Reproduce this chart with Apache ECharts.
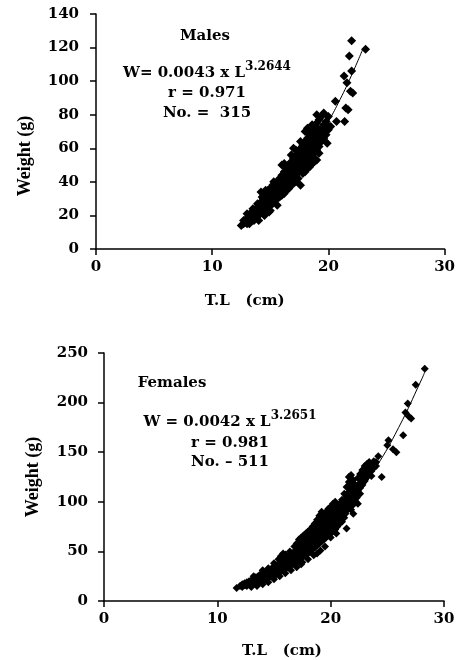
<!DOCTYPE html>
<html><head><meta charset="utf-8">
<script src="https://cdn.jsdelivr.net/npm/echarts@6/dist/echarts.min.js"></script>
<style>html,body{margin:0;padding:0;background:#fff}#c{width:458px;height:660px}</style>
</head><body><div id="c"></div>
<script>
// ---- data ----
const xTicksTop = [0, 10, 20, 30];
const yTicksTop = [0, 20, 40, 60, 80, 100, 120, 140];
const xTicksBottom = [0, 10, 20, 30];
const yTicksBottom = [0, 50, 100, 150, 200, 250];

// Males: [T.L (cm), Weight (g)]
const malePoints = [
 [12.5,14],[12.7,15],[12.7,17],[12.9,16],[13.0,18],[13.0,15],[13.2,17],[13.2,20],
 [13.4,19],[13.4,22],[13.4,17],[13.6,20],[13.6,23],[13.8,21],[13.8,24],[13.8,19],
 [14.0,22],[14.0,26],[14.0,20],[14.2,24],[14.2,28],[14.2,34],[14.2,22],[14.4,25],
 [14.4,30],[14.4,33],[14.4,23],[14.6,26],[14.6,29],[14.6,32],[14.8,27],[14.8,31],
 [14.8,35],[14.8,25],[15.0,28],[15.0,32],[15.0,36],[15.0,26],[15.2,30],[15.2,34],
 [15.2,38],[15.2,27],[15.4,31],[15.4,35],[15.4,39],[15.4,29],[15.6,33],[15.6,37],
 [15.6,40],[15.6,30],[15.8,34],[15.8,38],[15.8,42],[15.8,31],[16.0,35],[16.0,40],
 [16.0,44],[16.0,50],[16.0,32],[16.2,37],[16.2,41],[16.2,46],[16.2,51],[16.2,33],
 [16.4,38],[16.4,43],[16.4,48],[16.4,35],[16.6,40],[16.6,45],[16.6,50],[16.6,36],
 [16.8,41],[16.8,47],[16.8,52],[16.8,56],[16.8,38],[17.0,43],[17.0,49],[17.0,54],
 [17.0,60],[17.0,39],[17.2,44],[17.2,50],[17.2,56],[17.2,59],[17.2,40],[17.4,46],
 [17.4,52],[17.4,58],[17.4,42],[17.6,47],[17.6,54],[17.6,60],[17.6,64],[17.6,38],
 [17.8,49],[17.8,56],[17.8,62],[17.8,45],[18.0,50],[18.0,57],[18.0,64],[18.0,70],
 [18.0,46],[18.2,52],[18.2,59],[18.2,66],[18.2,72],[18.2,48],[18.4,54],[18.4,61],
 [18.4,68],[18.4,49],[18.6,55],[18.6,63],[18.6,70],[18.6,74],[18.6,51],[18.8,57],
 [18.8,65],[18.8,72],[18.8,52],[19.0,59],[19.0,67],[19.0,75],[19.0,80],[19.0,53],
 [19.2,61],[19.2,69],[19.2,77],[19.2,57],[19.4,64],[19.4,72],[19.4,79],[19.6,66],
 [19.6,74],[19.6,81],[19.8,68],[19.8,76],[20.0,71],[20.0,79],[20.2,73],[19.9,63],
 [20.6,88],[20.7,76],[21.4,76],[21.35,103],[21.6,99],[21.5,84],[21.7,83],[21.9,94],
 [22.1,93],[22.0,106],[21.8,115],[22.0,124],[23.2,119],
 [13.1,19],[13.3,18],[13.5,21],[13.7,22],[13.9,23],[14.1,25],[14.3,27],[14.3,31],
 [14.5,28],[14.7,30],[14.9,33],[15.1,30],[15.1,35],[15.3,33],[15.5,34],[15.5,37],
 [15.7,36],[15.9,36],[15.9,40],[16.1,38],[16.1,43],[16.3,40],[16.3,45],[16.5,42],
 [16.5,47],[16.7,43],[16.7,49],[16.9,45],[16.9,51],[17.1,47],[17.1,53],[17.3,48],
 [17.3,55],[17.5,50],[17.5,57],[17.7,52],[17.7,59],[17.9,53],[17.9,60],[18.1,55],
 [18.1,62],[18.3,57],[18.3,64],[18.5,58],[18.5,66],[18.7,60],[18.7,68],[18.9,62],
 [18.9,70],[19.1,64],[19.1,72],[19.3,66],[19.5,69],[19.7,71],[19.9,74],
 [13.0,21],[13.5,24],[13.2,15],[14.0,17],[14.5,20],[15.0,23],[13.6,17],[14.6,35],
 [15.3,40],[13.9,27],[14.9,22],[15.6,26]
];
// Males fitted curve W = 0.0043 L^3.2644
const maleFitTL = [12.5, 13, 14, 15, 16, 17, 18, 19, 20, 21, 22, 23];
const maleFitW  = [16.4, 18.6, 23.7, 29.6, 36.6, 44.7, 53.8, 64.2, 75.9, 89.0, 103.6, 119.7];

// Females: [T.L (cm), Weight (g)]
const femalePoints = [
 [11.7,13],[12.0,15],[12.2,14],[12.2,17],[12.4,16],[12.4,18],[12.6,15],[12.6,19],
 [12.6,17],[12.8,17],[12.8,20],[13.0,18],[13.0,21],[13.0,16],[13.2,19],[13.2,22],
 [13.2,17],[13.4,20],[13.4,24],[13.4,18],[13.6,21],[13.6,25],[13.6,19],[13.8,22],
 [13.8,27],[13.8,20],[14.0,23],[14.0,28],[14.0,21],[14.0,31],[14.2,24],[14.2,29],
 [14.2,22],[14.4,25],[14.4,30],[14.4,23],[14.6,26],[14.6,31],[14.6,24],[14.8,28],
 [14.8,33],[14.8,25],[15.0,29],[15.0,34],[15.0,26],[15.0,38],[15.2,30],[15.2,36],
 [15.2,27],[15.4,32],[15.4,37],[15.4,28],[15.4,42],[15.6,33],[15.6,39],[15.6,30],
 [15.6,45],[15.8,35],[15.8,41],[15.8,31],[15.8,48],[16.0,36],[16.0,43],[16.0,33],
 [16.0,47],[16.2,38],[16.2,44],[16.2,34],[16.4,39],[16.4,46],[16.4,35],[16.4,50],
 [16.6,41],[16.6,48],[16.6,37],[16.8,42],[16.8,50],[16.8,38],[16.8,55],[17.0,44],
 [17.0,52],[17.0,40],[17.0,58],[17.2,46],[17.2,54],[17.2,42],[17.2,62],[17.4,47],
 [17.4,56],[17.4,43],[17.4,64],[17.4,37],[17.6,49],[17.6,58],[17.6,45],[17.6,66],
 [17.8,51],[17.8,60],[17.8,47],[17.8,68],[18.0,53],[18.0,62],[18.0,48],[18.0,70],
 [18.2,55],[18.2,64],[18.2,50],[18.2,72],[18.4,57],[18.4,66],[18.4,52],[18.4,75],
 [18.6,59],[18.6,68],[18.6,54],[18.6,78],[18.8,61],[18.8,70],[18.8,56],[18.8,82],
 [19.0,63],[19.0,72],[19.0,58],[19.0,86],[19.2,90],[19.2,65],[19.2,75],[19.2,60],
 [19.2,88],[19.4,67],[19.4,77],[19.4,62],[19.4,85],[19.6,69],[19.6,80],[19.6,64],
 [19.6,90],[19.8,71],[19.8,82],[19.8,66],[19.8,93],[20.0,74],[20.0,85],[20.0,68],
 [20.0,95],[20.2,76],[20.2,87],[20.2,70],[20.2,98],[20.4,79],[20.4,90],[20.4,72],
 [20.4,100],[20.6,81],[20.6,92],[20.6,75],[20.6,96],[20.8,84],[20.8,94],[20.8,78],
 [20.8,98],[21.0,86],[21.0,97],[21.0,80],[21.0,102],[21.2,89],[21.2,100],[21.2,84],
 [21.2,108],[21.4,92],[21.4,105],[21.4,73],[21.4,115],[21.6,96],[21.6,110],[21.6,120],
 [21.6,125],[21.8,100],[21.8,118],[21.8,127],[21.8,92],[22.0,104],[22.0,113],[22.0,122],
 [22.0,88],[22.2,108],[22.2,116],[22.2,100],[22.4,112],[22.4,124],[22.4,98],[22.6,114],
 [22.6,128],[22.6,108],[22.8,117],[22.8,132],[22.8,122],[23.0,121],[23.0,136],[23.0,128],
 [23.2,125],[23.2,138],[23.2,131],[23.4,128],[23.4,134],[23.4,140],[23.6,131],[23.6,137],
 [23.6,126],[23.8,134],[23.8,141],[24.0,136],[24.0,140],[24.2,146],[24.5,125],[25.0,157],
 [25.1,162],[25.5,153],[25.8,150],[26.4,167],[26.6,190],[26.8,199],[26.9,186],[27.1,184],
 [27.5,218],[28.3,234],
 [12.5,16.5],[12.9,18.5],[13.1,19.5],[13.3,21],[13.5,22],[13.7,23],[13.9,24.5],[14.1,26],
 [14.3,27],[14.5,28],[14.7,29],[14.9,30.5],[15.1,32],[15.1,28],[15.3,33],[15.3,29],
 [15.5,35],[15.5,31],[15.7,37],[15.7,33],[15.9,38],[15.9,34],[16.1,40],[16.1,35],
 [16.3,41],[16.3,37],[16.5,43],[16.5,38],[16.7,45],[16.7,40],[16.9,47],[16.9,41],
 [17.1,48],[17.1,43],[17.1,55],[17.3,50],[17.3,45],[17.3,58],[17.5,52],[17.5,46],
 [17.5,60],[17.7,54],[17.7,48],[17.7,62],[17.9,56],[17.9,50],[17.9,64],[18.1,58],
 [18.1,51],[18.1,66],[18.3,60],[18.3,53],[18.3,68],[18.5,62],[18.5,55],[18.5,71],
 [18.7,64],[18.7,57],[18.7,74],[18.9,66],[18.9,59],[18.9,76],[19.1,68],[19.1,61],
 [19.1,80],[19.3,71],[19.3,63],[19.3,81],[19.5,73],[19.5,65],[19.5,83],[19.7,75],
 [19.7,67],[19.7,86],[19.9,78],[19.9,70],[19.9,89],[20.1,80],[20.1,72],[20.1,91],
 [20.3,83],[20.3,74],[20.3,94],[20.5,85],[20.5,77],[20.5,97],[20.7,88],[20.7,80],
 [20.9,90],[20.9,82],[21.1,92],[21.1,85],[21.3,96],[21.3,88],[21.5,100],[21.5,92],
 [21.7,104],[21.7,114],[21.9,108],[21.9,96],[22.1,110],[22.1,118],[22.3,112],[22.3,104],
 [22.5,118],[22.7,120],[22.9,126],[23.1,132],[23.3,135],[23.5,137],
 [14.0,17],[14.5,19],[15.0,22],[15.5,25],[16.0,28],[16.5,31],[13.5,15],[13.0,14],
 [17.0,34],[17.5,39],[18.0,42],[18.5,46],[18.8,48],[19.1,51],[19.5,55],[20.0,64],
 [20.5,68],[14.5,33],[13.2,25]
];
// Females fitted curve W = 0.0042 L^3.2651
const femaleFitTL = [11.7, 12, 14, 16, 18, 20, 22, 24, 26, 28, 28.3];
const femaleFitW  = [13.0, 14.0, 23.2, 35.9, 52.7, 74.3, 101.4, 134.7, 174.9, 222.8, 230.7];

// ---- chart ----
const chart = echarts.init(document.getElementById('c'), null, {renderer: 'canvas'});
const tickFont = {fontFamily: 'DejaVu Serif', fontWeight: 'bold', fontSize: 15, color: '#000'};
const axisLine = {show: true, onZero: false, lineStyle: {color: '#000', width: 1.5}};
const axisTick = {show: true, inside: false, length: 6, lineStyle: {color: '#000', width: 1.5}};

function xAxis(grid, ticks, namePad, gap) {
  return {
    type: 'value', gridIndex: grid, min: ticks[0], max: ticks[ticks.length - 1],
    interval: ticks[1] - ticks[0], axisLine: axisLine, axisTick: axisTick,
    splitLine: {show: false},
    axisLabel: Object.assign({margin: 11}, tickFont),
    name: 'T.L   (cm)', nameLocation: 'middle', nameGap: gap,
    nameTextStyle: Object.assign({padding: namePad}, tickFont)
  };
}
function yAxis(grid, ticks, namePad, margin) {
  return {
    type: 'value', gridIndex: grid, min: ticks[0], max: ticks[ticks.length - 1],
    interval: ticks[1] - ticks[0], axisLine: axisLine, axisTick: axisTick,
    splitLine: {show: false},
    axisLabel: Object.assign({margin: margin}, tickFont),
    name: 'Weight (g)', nameLocation: 'middle', nameGap: 62, nameRotate: 90,
    nameTextStyle: {fontFamily: 'Liberation Serif', fontWeight: 'bold', fontSize: 18, color: '#000', padding: namePad}
  };
}

const textBase = {fill: '#000', fontFamily: 'DejaVu Serif', fontWeight: 'bold', fontSize: 15, align: 'center', verticalAlign: 'middle'};
function txt(x, y, s) { return {type: 'text', x: x, y: y, style: Object.assign({text: s}, textBase)}; }
function eq(x, y, main, sup) {
  return {type: 'text', x: x, y: y, style: Object.assign({}, textBase, {
    text: '{m|' + main + '}{s|' + sup + '}',
    rich: {
      m: {fontFamily: 'DejaVu Serif', fontWeight: 'bold', fontSize: 15, lineHeight: 20, fill: '#000', color: '#000', verticalAlign: 'bottom'},
      s: {fontFamily: 'DejaVu Serif', fontWeight: 'bold', fontSize: 12, lineHeight: 20, fill: '#000', color: '#000', verticalAlign: 'top'}
    }
  })};
}

chart.setOption({
  animation: false,
  backgroundColor: '#fff',
  grid: [
    {left: 96, top: 14, width: 353, height: 235},
    {left: 104, top: 353, width: 340, height: 250}
  ],
  xAxis: [xAxis(0, xTicksTop, [0, 51, 0, 0], 45), xAxis(1, xTicksBottom, [0, 0, 0, 16], 43)],
  yAxis: [yAxis(0, yTicksTop, [0, 49, 0, 0], 17), yAxis(1, yTicksBottom, [0, 0, 0, 0], 16)],
  series: [
    {type: 'scatter', xAxisIndex: 0, yAxisIndex: 0, data: malePoints, symbol: 'diamond', symbolSize: 9,
     itemStyle: {color: '#000', opacity: 1}},
    {type: 'line', xAxisIndex: 0, yAxisIndex: 0, data: maleFitTL.map((v, i) => [v, maleFitW[i]]),
     smooth: true, showSymbol: false, symbol: 'none', lineStyle: {color: '#000', width: 1}, z: 3},
    {type: 'scatter', xAxisIndex: 1, yAxisIndex: 1, data: femalePoints, symbol: 'diamond', symbolSize: 8,
     itemStyle: {color: '#000', opacity: 1}},
    {type: 'line', xAxisIndex: 1, yAxisIndex: 1, data: femaleFitTL.map((v, i) => [v, femaleFitW[i]]),
     smooth: true, showSymbol: false, symbol: 'none', lineStyle: {color: '#000', width: 1}, z: 3}
  ],
  graphic: [
    txt(205, 36, 'Males'),
    eq(207, 71, 'W= 0.0043 x L', '3.2644'),
    txt(207, 93, 'r = 0.971'),
    txt(207, 113, 'No. =  315'),
    txt(172, 383, 'Females'),
    eq(230, 420, 'W = 0.0042 x L', '3.2651'),
    txt(230, 443, 'r = 0.981'),
    txt(230, 462, 'No. \u2013 511')
  ]
});
</script></body></html>
